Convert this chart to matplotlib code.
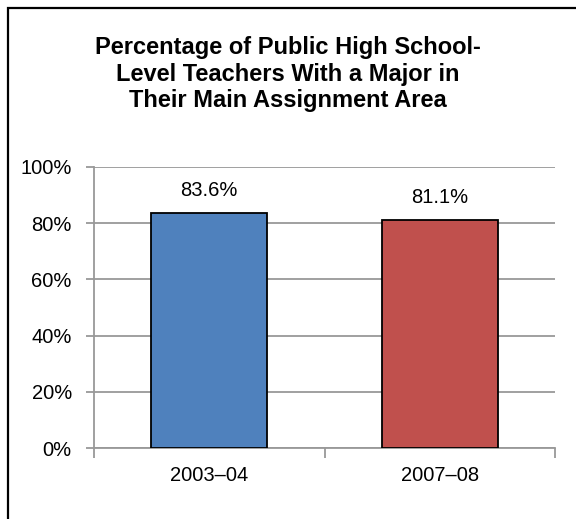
import matplotlib.pyplot as plt
from matplotlib.patches import Rectangle

# dados
anos = ["2003\u201304", "2007\u201308"]
percentuais = [83.6, 81.1]
cores = ["#4F81BD", "#C0504D"]
yticks = [0, 20, 40, 60, 80, 100]

titulo = ("Percentage of Public High School-\n"
          "Level Teachers With a Major in\n"
          "Their Main Assignment Area")

plt.rcParams['font.family'] = ['Liberation Sans', 'DejaVu Sans']

fig = plt.figure(figsize=(5.76, 5.19), dpi=100)
ax = fig.add_axes([94 / 576, 1 - 448 / 519, (555 - 94) / 576, (448 - 167) / 519])

cinza = "#999999"
fs = 14.5

x = list(range(len(anos)))
barras = ax.bar(x, percentuais, width=0.505, color=cores,
                edgecolor="black", linewidth=1.3, zorder=3)

# rótulos de dados
for xi, v in zip(x, percentuais):
    ax.annotate(f"{v:.1f}%", (xi, v), xytext=(0, 16), textcoords="offset points",
                ha="center", va="center", fontsize=fs)

ax.set_xlim(-0.5, len(anos) - 0.5)
ax.set_ylim(0, 100)
ax.set_yticks(yticks)
ax.set_yticklabels([f"{t}%" for t in yticks], fontsize=fs)
ax.yaxis.grid(True, color=cinza, linewidth=1.3, zorder=0)

ax.set_xticks(x)
ax.set_xticklabels(anos, fontsize=fs)
ax.set_xticks([-0.5, 0.5, 1.5], minor=True)
ax.tick_params(axis="x", which="major", length=0, pad=13)
ax.tick_params(axis="x", which="minor", length=7, width=1.3, color=cinza)
ax.tick_params(axis="y", length=6, width=1.3, color=cinza, pad=10)

for lado in ["top", "right"]:
    ax.spines[lado].set_visible(False)
for lado in ["left", "bottom"]:
    ax.spines[lado].set_color(cinza)
    ax.spines[lado].set_linewidth(1.3)

# título
fig.text(0.5, 1 - 74 / 519, titulo, ha="center", va="center",
         fontsize=17, fontweight="bold", linespacing=1.22)

# moldura (sai da imagem à direita e embaixo)
moldura = Rectangle((8 / 576, -0.1), 1.2, 1 - 8 / 519 + 0.1,
                    transform=fig.transFigure, fill=False,
                    edgecolor="black", linewidth=1.6)
fig.patches.append(moldura)

fig.savefig("out.png", dpi=100)
